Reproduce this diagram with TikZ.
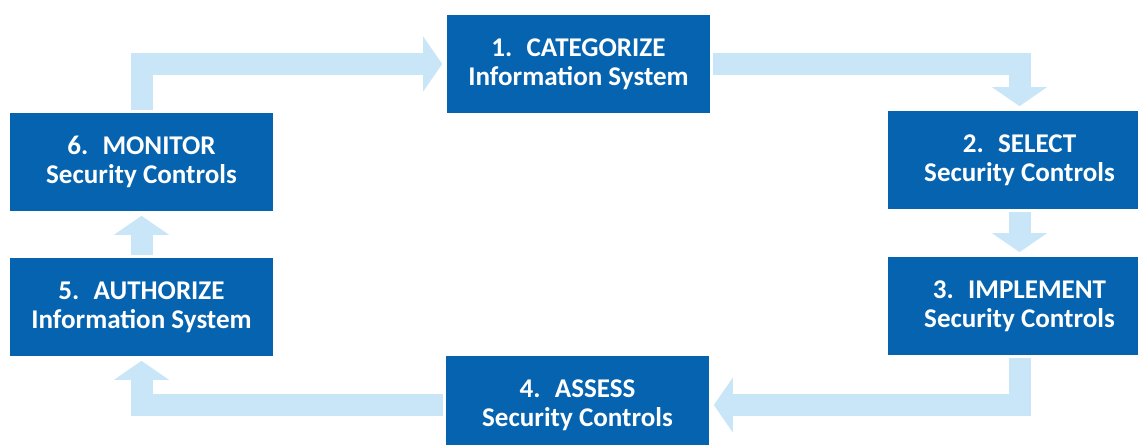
\documentclass[tikz,border=0pt]{standalone}
\usepackage{fontspec}
\setmainfont{Carlito}
\usepackage{xcolor}
\usepackage{tikz}
\usetikzlibrary{arrows.meta,positioning}

\definecolor{rmfblue}{HTML}{0563AF}
\definecolor{flowblue}{HTML}{C8E6F8}

\tikzset{
  rmfbox/.style={fill=rmfblue, text=white, align=center, inner sep=0pt,
    minimum width=5.26cm, minimum height=1.96cm,
    font=\fontsize{15.4}{16.5}\selectfont\bfseries},
  flow/.style={draw=flowblue, line width=0.44cm, line join=miter,
    -{Triangle[width=1.1cm,length=0.38cm,line width=0pt]},
    shorten >=0.09cm, shorten <=0.06cm}
}

\begin{document}
\begin{tikzpicture}[x=0.02cm,y=-0.02cm]
\useasboundingbox (0,0) rectangle (1138,445);
\clip (0,0) rectangle (1138,445);
% Box 1: Categorize
\node[rmfbox] (categorize) at (578.5,64) {1.~ CATEGORIZE\\Information System};
% Box 2: Select
\node[rmfbox] (select) at (1019.5,160) {2.~ SELECT\\Security Controls};
% Box 3: Implement
\node[rmfbox] (implement) at (1019.5,306) {3.~ IMPLEMENT\\Security Controls};
% Box 4: Assess
\node[rmfbox] (assess) at (577.5,405) {4.~ ASSESS\\Security Controls};
% Box 5: Authorize
\node[rmfbox] (authorize) at (141.5,307) {5.~ AUTHORIZE\\Information System};
% Box 6: Monitor
\node[rmfbox] (monitor) at (141.5,162) {6.~ MONITOR\\Security Controls};
% Arrows
\draw[flow] (monitor.north) |- (categorize.west);
\draw[flow] (categorize.east) -| (select.north);
\draw[flow] (select.south) -- (implement.north);
\draw[flow] (implement.south) |- (assess.east);
\draw[flow] (assess.west) -| (authorize.south);
\draw[flow] (authorize.north) -- (monitor.south);
\end{tikzpicture}
\end{document}
